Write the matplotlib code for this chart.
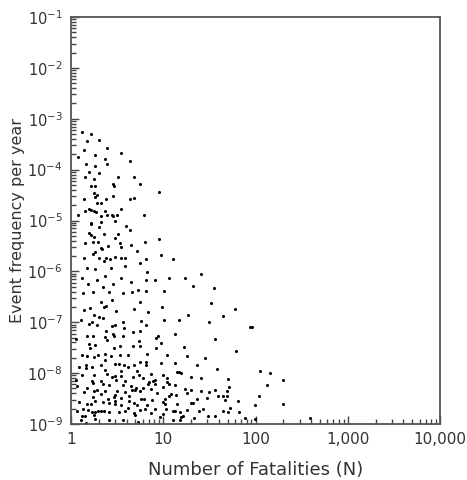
import numpy as np
import matplotlib
matplotlib.use("Agg")
import matplotlib.pyplot as plt
from matplotlib.ticker import FixedLocator, LogLocator, NullFormatter

# Data, as log10 values
log10_fatalities = [
    0.119, 0.214, 0.170, 0.307, 0.141, 0.390, 0.545, 0.076, 0.257, 0.372,
    0.643, 0.163, 0.257, 0.390, 0.195, 0.300, 0.149, 0.246, 0.509, 0.680,
    0.214, 0.257, 0.459, 0.469, 0.748, 0.246, 0.285, 0.257, 0.459, 0.141,
    0.383, 0.643, 0.680, 0.282, 0.322, 0.192, 0.220, 0.249, 0.271, 0.155,
    0.372, 0.545, 0.073, 0.322, 0.394, 0.444, 0.459, 0.502, 0.474, 0.214,
    0.220, 0.322, 0.599, 0.300, 0.643, 0.192, 0.214, 0.358, 0.509, 0.249,
    0.474, 0.155, 0.235, 0.293, 0.528, 0.401, 0.328, 0.336, 0.545, 0.654,
    0.263, 0.238, 0.712, 0.138, 0.307, 0.383, 0.426, 0.474, 0.542, 0.589,
    0.358, 0.745, 0.173, 0.263, 0.437, 0.582,
    0.950, 0.795, 0.802, 0.954, 0.972, 1.109, 0.810, 0.821, 1.406,
    0.119, 0.282, 0.372, 0.545, 0.647, 0.184, 0.455, 0.350, 0.726, 0.133,
    0.242, 0.409, 0.560, 0.661, 0.325, 0.444, 0.745, 0.141, 0.206, 0.358,
    0.379, 0.491, 0.683, 0.249, 0.300, 0.344, 0.112, 0.228, 0.560, 0.762,
    0.192, 0.279, 0.444, 0.480, 0.578, 0.675, 0.379, 0.459, 0.170, 0.235,
    0.365, 0.466, 0.560, 0.054, 0.394, 0.740, 0.198, 0.263, 0.206, 0.528,
    0.466, 0.675, 0.751, 0.119, 0.177, 0.293, 0.246, 0.365, 0.437, 0.531,
    0.618, 0.372, 0.090, 0.163, 0.163, 0.228, 0.328, 0.474, 0.520, 0.575,
    0.618, 0.683, 0.372, 0.545, 0.712, 0.119, 0.249, 0.387, 0.444, 0.480,
    0.545, 0.669, 0.740, 0.054, 0.228, 0.328, 0.488, 0.589, 0.242, 0.344,
    0.409, 0.062, 0.560, 0.654, 0.177, 0.705, 0.249, 0.285, 0.372, 0.502,
    0.661, 0.141, 0.322, 0.480, 0.582, 0.748, 0.690, 0.235, 0.401, 0.466,
    0.545, 0.625, 0.083, 0.263, 0.344, 0.409, 0.474, 0.632, 0.177, 0.214,
    0.480, 0.539, 0.683, 0.719, 0.127, 0.184, 0.322, 0.358, 0.582, 0.068,
    0.618, 0.228, 0.263, 0.293, 0.415, 0.517, 0.683, 0.119, 0.149, 0.249,
    0.697, 0.112, 0.263, 0.409, 0.560, 0.726,
    0.813, 0.913, 1.066, 1.233, 1.326, 0.813, 1.008, 0.987, 0.838, 1.272,
    1.011, 1.174, 1.492, 0.813, 0.748, 1.127, 0.946, 0.921, 0.972, 0.921,
    1.225, 0.821, 1.037, 1.254, 1.456, 0.748, 0.813, 0.813, 0.972, 1.131,
    1.363, 0.864, 1.000, 1.152, 1.174, 1.189, 1.304, 1.413, 0.777, 1.037,
    0.849, 0.892, 0.914, 1.044, 0.835, 0.907, 1.059, 1.131, 0.777, 0.870,
    1.000, 1.239, 1.298, 0.935, 1.081, 1.254, 1.406, 1.492, 0.755, 0.791,
    0.878, 1.022, 1.066, 1.138, 1.369, 1.471, 0.821, 1.000, 1.022, 1.152,
    1.304, 1.319, 0.748, 0.805, 0.913, 1.029, 1.102, 1.182, 1.254, 1.384,
    1.434, 0.864, 0.994, 1.131, 1.211, 1.196, 0.965, 1.102, 1.182, 1.333,
    1.485,
    1.553, 1.521, 1.775, 1.644, 1.564, 1.940, 1.962, 1.789, 1.586, 2.049,
    2.157, 2.302, 1.702, 2.128, 1.716, 1.558, 1.694, 1.593, 1.644, 1.688,
    2.035, 1.666, 1.810, 1.998, 2.302, 1.644, 1.702, 1.724, 1.824, 1.564,
    1.883, 1.998, 2.591, 0.163,
]

log10_frequency = [
    -3.265, -3.304, -3.442, -3.422, -3.613, -3.573, -3.678, -3.750, -3.717, -3.783,
    -3.823, -3.893, -3.927, -3.893, -4.039, -4.071, -4.137, -4.177, -4.137, -4.150,
    -4.326, -4.314, -4.287, -4.314, -4.287, -4.464, -4.497, -4.536, -4.510, -4.581,
    -4.581, -4.581, -4.556, -4.654, -4.654, -4.772, -4.798, -4.818, -4.837, -4.806,
    -4.806, -4.772, -4.884, -4.904, -4.890, -4.884, -4.904, -4.890, -5.008, -5.041,
    -5.073, -5.033, -5.100, -5.125, -5.179, -5.244, -5.277, -5.269, -5.257, -5.316,
    -5.348, -5.446, -5.426, -5.414, -5.440, -5.493, -5.532, -5.558, -5.524, -5.479,
    -5.611, -5.650, -5.603, -5.729, -5.741, -5.729, -5.748, -5.715, -5.729, -5.729,
    -5.800, -5.827, -5.925, -5.957, -5.937, -5.898,
    -4.444, -4.890, -5.420, -5.355, -5.676, -5.748, -5.760, -6.010, -6.055,
    -6.133, -6.167, -6.088, -6.121, -6.200, -6.251, -6.239, -6.310, -6.369, -6.428,
    -6.408, -6.408, -6.428, -6.396, -6.593, -6.560, -6.593, -6.756, -6.723, -6.703,
    -6.684, -6.776, -6.737, -6.854, -6.894, -6.907, -6.959, -6.986, -6.998, -6.972,
    -7.037, -7.051, -7.070, -7.051, -7.116, -7.182, -7.169, -7.222, -7.273, -7.261,
    -7.281, -7.261, -7.273, -7.326, -7.352, -7.365, -7.418, -7.444, -7.497, -7.464,
    -7.509, -7.458, -7.458, -7.640, -7.666, -7.640, -7.674, -7.615, -7.654, -7.640,
    -7.640, -7.739, -7.882, -7.837, -7.890, -7.870, -7.850, -7.823, -7.823, -7.837,
    -7.876, -7.837, -7.935, -7.968, -7.968, -8.033, -8.033, -8.020, -8.067, -8.053,
    -8.053, -8.067, -8.033, -8.131, -8.151, -8.151, -8.131, -8.151, -8.196, -8.204,
    -8.230, -8.256, -8.230, -8.249, -8.294, -8.294, -8.361, -8.341, -8.347, -8.361,
    -8.328, -8.373, -8.412, -8.426, -8.373, -8.361, -8.328, -8.479, -8.511, -8.479,
    -8.491, -8.459, -8.570, -8.557, -8.570, -8.583, -8.557, -8.557, -8.609, -8.609,
    -8.609, -8.623, -8.583, -8.623, -8.701, -8.721, -8.754, -8.754, -8.754, -8.740,
    -8.687, -8.766, -8.766, -8.740, -8.766, -8.766, -8.780, -8.833, -8.833, -8.819,
    -8.819, -8.917, -8.911, -8.923, -8.917, -8.951,
    -6.167, -6.173, -6.133, -6.121, -6.279, -6.389, -6.389, -6.703, -6.801, -6.854,
    -6.947, -6.947, -6.998, -7.051, -7.169, -7.234, -7.267, -7.312, -7.405, -7.509,
    -7.477, -7.627, -7.640, -7.654, -7.705, -7.784, -7.784, -7.837, -7.803, -7.803,
    -7.837, -8.020, -8.033, -7.980, -7.980, -7.988, -8.067, -8.086, -8.086, -8.098,
    -8.177, -8.151, -8.137, -8.177, -8.204, -8.216, -8.216, -8.230, -8.283, -8.308,
    -8.275, -8.308, -8.328, -8.400, -8.406, -8.393, -8.361, -8.373, -8.504, -8.504,
    -8.524, -8.504, -8.459, -8.432, -8.504, -8.491, -8.623, -8.570, -8.609, -8.609,
    -8.583, -8.597, -8.721, -8.714, -8.701, -8.701, -8.740, -8.766, -8.721, -8.754,
    -8.701, -8.780, -8.806, -8.754, -8.833, -8.872, -8.858, -8.931, -8.923, -8.884,
    -8.845,
    -6.330, -6.625, -6.742, -6.880, -7.332, -7.096, -7.096, -7.568, -7.921, -7.968,
    -7.988, -8.131, -8.106, -8.236, -8.269, -8.341, -8.361, -8.446, -8.459, -8.459,
    -8.459, -8.538, -8.557, -8.623, -8.603, -8.740, -8.773, -8.695, -8.760, -8.852,
    -8.884, -8.904, -8.884, -8.976,
]

x_ticks = [1, 10, 100, 1000, 10000]
x_tick_labels = ["1", "10", "100", "1,000", "10,000"]
y_ticks = [1e-9, 1e-8, 1e-7, 1e-6, 1e-5, 1e-4, 1e-3, 1e-2, 1e-1]
y_tick_labels = [r"$10^{-9}$", r"$10^{-8}$", r"$10^{-7}$", r"$10^{-6}$", r"$10^{-5}$",
                 r"$10^{-4}$", r"$10^{-3}$", r"$10^{-2}$", r"$10^{-1}$"]

plt.rcParams['font.family'] = ['DejaVu Sans']
plt.rcParams['mathtext.default'] = 'regular'

fig = plt.figure(figsize=(4.67, 4.80), dpi=100)
ax = fig.add_axes([71/467, 56/480, 369/467, 407/480])

N = np.power(10.0, np.array(log10_fatalities))
F = np.power(10.0, np.array(log10_frequency))
ax.plot(N, F, linestyle='none', marker='o', markersize=2.2, color='black',
        markeredgewidth=0)

ax.set_xscale('log')
ax.set_yscale('log')
ax.set_xlim(1, 10000)
ax.set_ylim(1e-9, 1e-1)

text_color = '#333333'
ax.xaxis.set_major_locator(FixedLocator(x_ticks))
ax.set_xticklabels(x_tick_labels)
ax.yaxis.set_major_locator(FixedLocator(y_ticks))
ax.set_yticklabels(y_tick_labels)
ax.xaxis.set_minor_locator(LogLocator(base=10, subs=np.arange(2, 10)))
ax.yaxis.set_minor_locator(LogLocator(base=10, subs=np.arange(2, 10), numticks=20))
ax.xaxis.set_minor_formatter(NullFormatter())
ax.yaxis.set_minor_formatter(NullFormatter())

ax.tick_params(which='major', direction='in', length=6, width=1.0, color='#444444',
               top=False, right=False)
ax.tick_params(which='minor', direction='in', length=3.5, width=1.0, color='#444444',
               top=False, right=False)
ax.tick_params(axis='x', which='major', labelsize=11, labelcolor=text_color, pad=6)
ax.tick_params(axis='y', which='major', labelsize=10.5, labelcolor=text_color, pad=6)

for s in ax.spines.values():
    s.set_color('#555555')
    s.set_linewidth(1.3)

ax.set_xlabel("Number of Fatalities (N)", fontsize=13, color=text_color, labelpad=10)
ax.set_ylabel("Event frequency per year", fontsize=11.5, color=text_color, labelpad=2)

fig.savefig("out.png", dpi=100)
